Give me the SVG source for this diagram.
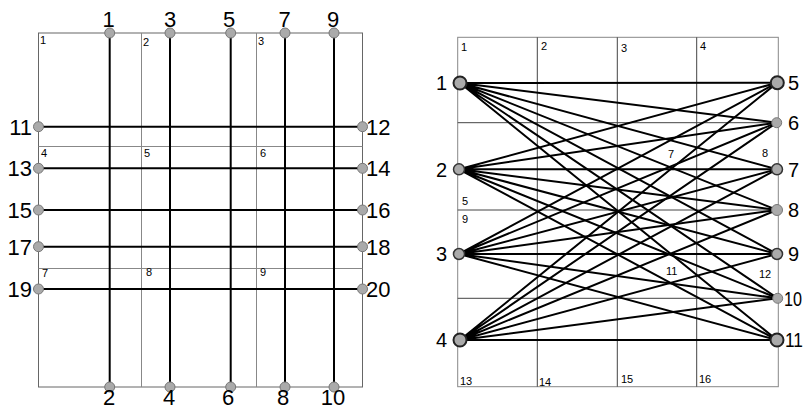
<svg xmlns="http://www.w3.org/2000/svg" width="805" height="411" viewBox="0 0 805 411">
<style>
.grid{stroke:#888;stroke-width:1;fill:none}
.edge{stroke:#000;stroke-width:2;fill:none}
.n{fill:#aaa;stroke:#777;stroke-width:1}
.nb{fill:#aaa;stroke:#222;stroke-width:2}
.nm{fill:#aaa;stroke:#333;stroke-width:1.5}
.lab{font-family:"Liberation Sans",Arial,sans-serif;font-size:22px;fill:#000}
.lab2{font-family:"Liberation Sans",Arial,sans-serif;font-size:20px;fill:#000}
.cell{font-family:"Liberation Sans",Arial,sans-serif;font-size:11px;fill:#000}
.mid{text-anchor:middle}
.end{text-anchor:end}
</style>
<rect width="805" height="411" fill="#fff"/>
<!-- Left panel grid -->
<g id="left-grid">
<rect class="grid" x="38.5" y="33" width="324" height="354" style="stroke:#666"/>
<line class="grid" x1="141.5" y1="33" x2="141.5" y2="387"/>
<line class="grid" x1="256.5" y1="33" x2="256.5" y2="387"/>
<line class="grid" x1="38.5" y1="146.5" x2="362.5" y2="146.5"/>
<line class="grid" x1="38.5" y1="268.5" x2="362.5" y2="268.5"/>
<text class="cell" x="40" y="44">1</text>
<text class="cell" x="143" y="46">2</text>
<text class="cell" x="258" y="45">3</text>
<text class="cell" x="41" y="157">4</text>
<text class="cell" x="144" y="157">5</text>
<text class="cell" x="260" y="157">6</text>
<text class="cell" x="42" y="277">7</text>
<text class="cell" x="146" y="276">8</text>
<text class="cell" x="260" y="276">9</text>
</g>
<g id="connectors">
<line class="edge" x1="109.7" y1="33" x2="109.7" y2="387"/>
<line class="edge" x1="170" y1="33" x2="170" y2="387"/>
<line class="edge" x1="230.7" y1="33" x2="230.7" y2="387"/>
<line class="edge" x1="285" y1="33" x2="285" y2="387"/>
<line class="edge" x1="334" y1="33" x2="334" y2="387"/>
<line class="edge" x1="38.5" y1="126.7" x2="362.5" y2="126.7"/>
<line class="edge" x1="38.5" y1="168.3" x2="362.5" y2="168.3"/>
<line class="edge" x1="38.5" y1="210" x2="362.5" y2="210"/>
<line class="edge" x1="38.5" y1="246.7" x2="362.5" y2="246.7"/>
<line class="edge" x1="38.5" y1="289" x2="362.5" y2="289"/>
</g>
<g id="L1"><circle class="n" cx="109.7" cy="33" r="5"/><text class="lab mid" x="108.5" y="27">1</text></g>
<g id="L3"><circle class="n" cx="170" cy="33" r="5"/><text class="lab mid" x="170" y="27">3</text></g>
<g id="L5"><circle class="n" cx="230.7" cy="33" r="5"/><text class="lab mid" x="229" y="27">5</text></g>
<g id="L7"><circle class="n" cx="285" cy="33" r="5"/><text class="lab mid" x="284.5" y="27">7</text></g>
<g id="L9"><circle class="n" cx="334" cy="33" r="5"/><text class="lab mid" x="333" y="27">9</text></g>
<g id="L2"><circle class="n" cx="109.7" cy="387" r="5"/><text class="lab mid" x="109" y="405">2</text></g>
<g id="L4"><circle class="n" cx="170" cy="387" r="5"/><text class="lab mid" x="169" y="405">4</text></g>
<g id="L6"><circle class="n" cx="230.7" cy="387" r="5"/><text class="lab mid" x="228" y="405">6</text></g>
<g id="L8"><circle class="n" cx="285" cy="387" r="5"/><text class="lab mid" x="283" y="405">8</text></g>
<g id="L10"><circle class="n" cx="334" cy="387" r="5"/><text class="lab mid" x="333" y="405">10</text></g>
<g id="L11"><circle class="n" cx="38.5" cy="126.7" r="5"/><text class="lab end" x="32" y="134.7">11</text></g>
<g id="L13"><circle class="n" cx="38.5" cy="168.3" r="5"/><text class="lab end" x="32" y="176.3">13</text></g>
<g id="L15"><circle class="n" cx="38.5" cy="210" r="5"/><text class="lab end" x="32" y="218">15</text></g>
<g id="L17"><circle class="n" cx="38.5" cy="246.7" r="5"/><text class="lab end" x="32" y="254.7">17</text></g>
<g id="L19"><circle class="n" cx="38.5" cy="289" r="5"/><text class="lab end" x="32" y="297">19</text></g>
<g id="L12"><circle class="n" cx="362.5" cy="126.7" r="5"/><text class="lab" x="366" y="134.7">12</text></g>
<g id="L14"><circle class="n" cx="362.5" cy="168.3" r="5"/><text class="lab" x="366" y="176.3">14</text></g>
<g id="L16"><circle class="n" cx="362.5" cy="210" r="5"/><text class="lab" x="366" y="218">16</text></g>
<g id="L18"><circle class="n" cx="362.5" cy="246.7" r="5"/><text class="lab" x="366" y="254.7">18</text></g>
<g id="L20"><circle class="n" cx="362.5" cy="289" r="5"/><text class="lab" x="366" y="297">20</text></g>

<!-- Right panel grid -->
<g id="right-grid">
<rect class="grid" x="457.7" y="37.3" width="320.6" height="349.4"/>
<line class="grid" x1="537.3" y1="37.3" x2="537.3" y2="386.7" style="stroke:#444"/>
<line class="grid" x1="617.3" y1="37.3" x2="617.3" y2="386.7" style="stroke:#444"/>
<line class="grid" x1="696.7" y1="37.3" x2="696.7" y2="386.7" style="stroke:#444"/>
<line class="grid" x1="457.7" y1="122.7" x2="778.3" y2="122.7" style="stroke:#444"/>
<line class="grid" x1="457.7" y1="210" x2="778.3" y2="210" style="stroke:#444"/>
<line class="grid" x1="457.7" y1="298.3" x2="778.3" y2="298.3" style="stroke:#444"/>
<text class="cell" x="461" y="51">1</text>
<text class="cell" x="541" y="50">2</text>
<text class="cell" x="621" y="52">3</text>
<text class="cell" x="700" y="50">4</text>
<text class="cell" x="462" y="205">5</text>
<text class="cell" x="668" y="158">7</text>
<text class="cell" x="762" y="157">8</text>
<text class="cell" x="462" y="223">9</text>
<text class="cell" x="666" y="275">11</text>
<text class="cell" x="759" y="278">12</text>
<text class="cell" x="460" y="385">13</text>
<text class="cell" x="539" y="386">14</text>
<text class="cell" x="621" y="383">15</text>
<text class="cell" x="699" y="383">16</text>
</g>
<g id="connectors-right">
<path class="edge" d="M460 83L777.3 82.7M460 83L776.7 122.7M460 83L777 169.3M460 83L777 210M460 83L777 254M460 83L777.7 298.3M460 83L777 340"/>
<path class="edge" d="M459 169.3L777.3 82.7M459 169.3L776.7 122.7M459 169.3L777 169.3M459 169.3L777 210M459 169.3L777 254M459 169.3L777.7 298.3M459 169.3L777 340"/>
<path class="edge" d="M459 254L777.3 82.7M459 254L776.7 122.7M459 254L777 169.3M459 254L777 210M459 254L777 254M459 254L777.7 298.3M459 254L777 340"/>
<path class="edge" d="M460 340L777.3 82.7M460 340L776.7 122.7M460 340L777 169.3M460 340L777 210M460 340L777 254M460 340L777.7 298.3M460 340L777 340"/>
</g>
<g id="R1"><circle class="nb" cx="460" cy="83" r="6.5"/><text class="lab2 end" x="447" y="90">1</text></g>
<g id="R2"><circle class="nm" cx="459" cy="169.3" r="5.5"/><text class="lab2 end" x="447" y="176.5">2</text></g>
<g id="R3"><circle class="nm" cx="459" cy="254" r="5.5"/><text class="lab2 end" x="447" y="261">3</text></g>
<g id="R4"><circle class="nb" cx="460" cy="340" r="6.5"/><text class="lab2 end" x="447" y="347">4</text></g>
<g id="R5"><circle class="nb" cx="777.3" cy="82.7" r="6.5"/><text class="lab2" x="788" y="90">5</text></g>
<g id="R6"><circle class="n" cx="776.7" cy="122.7" r="5"/><text class="lab2" x="788" y="130">6</text></g>
<g id="R7"><circle class="nm" cx="777" cy="169.3" r="5.5"/><text class="lab2" x="788" y="176.5">7</text></g>
<g id="R8"><circle class="n" cx="777" cy="210" r="5.5"/><text class="lab2" x="788" y="217">8</text></g>
<g id="R9"><circle class="nm" cx="777" cy="254" r="5.5"/><text class="lab2" x="788" y="261">9</text></g>
<g id="R10"><circle class="n" cx="777.7" cy="298.3" r="5"/><text class="lab2" x="784" y="305.5" textLength="18" lengthAdjust="spacingAndGlyphs">10</text></g>
<g id="R11"><circle class="nb" cx="777" cy="340" r="6.5"/><text class="lab2" x="785" y="347" textLength="18" lengthAdjust="spacingAndGlyphs">11</text></g>
</svg>
